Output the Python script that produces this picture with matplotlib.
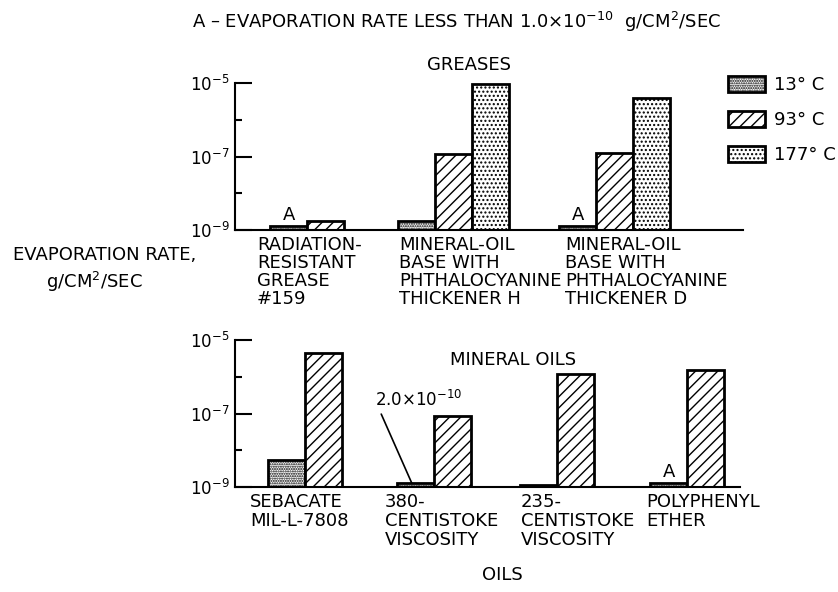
import numpy as np
import matplotlib
matplotlib.use('Agg')
import matplotlib.pyplot as plt
from matplotlib.patches import Patch

plt.rc('font', family='DejaVu Sans', size=13)
plt.rc('mathtext', default='regular')
plt.rc('hatch', linewidth=1.0)

# evaporation rate, g/cm^2/sec  (nan = not measured)
temps = ['13° C', '93° C', '177° C']

grease_names = ['RADIATION-\nRESISTANT\nGREASE\n#159',
                'MINERAL-OIL\nBASE WITH\nPHTHALOCYANINE\nTHICKENER H',
                'MINERAL-OIL\nBASE WITH\nPHTHALOCYANINE\nTHICKENER D']
grease_13 = [1.0e-10, 1.8e-9, 1.0e-10]
grease_93 = [1.8e-9, 1.2e-7, 1.25e-7]
grease_177 = [np.nan, 9.3e-6, 4.0e-6]
grease_A = [True, False, True]          # below 1.0e-10

oil_names = ['SEBACATE\nMIL-L-7808',
             '380-\nCENTISTOKE\nVISCOSITY',
             '235-\nCENTISTOKE\nVISCOSITY',
             'POLYPHENYL\nETHER']
oil_13 = [5.4e-9, 2.0e-10, 1.15e-9, 1.0e-10]
oil_93 = [4.5e-6, 8.3e-8, 1.2e-6, 1.55e-6]
oil_A = [False, False, False, True]

hatches = ['.......', '///', '....']
y_floor = 1e-9
stub = 1.26e-9      # anything under the axis floor is drawn as a thin stub
W = 838.
H = 592.


def draw_panel(ax, starts, label_x, names, series, a_flags, xmax, lsp):
    for k, vals in enumerate(series):
        v = np.array(vals, dtype=float)
        ok = ~np.isnan(v)
        shown = np.where(v < y_floor, stub, v)
        ax.bar(np.array(starts)[ok] + k, shown[ok] - y_floor, bottom=y_floor, width=1,
               align='edge', facecolor='white', edgecolor='black', linewidth=2,
               hatch=hatches[k])
    for i, a in enumerate(a_flags):
        if a:
            ax.annotate('A', xy=(starts[i] + 0.5, stub), xytext=(0, 2), textcoords='offset points',
                        ha='center', va='bottom', fontsize=13)
    for x, name in zip(label_x, names):
        ax.annotate(name, xy=(x, 0), xycoords=('data', 'axes fraction'), xytext=(0, -4),
                    textcoords='offset points', ha='left', va='top', linespacing=lsp)
    ax.set_yscale('log')
    ax.set_ylim(1e-9, 1e-5)
    ax.set_xlim(0, xmax)
    ax.spines['top'].set_visible(False)
    ax.spines['right'].set_visible(False)
    ax.spines['left'].set_linewidth(1.5)
    ax.spines['bottom'].set_linewidth(1.5)
    ax.set_xticks([])
    ax.set_yticks([1e-9, 1e-7, 1e-5])
    ax.set_yticklabels([r'$10^{-9}$', r'$10^{-7}$', r'$10^{-5}$'])
    ax.set_yticks([1e-8, 1e-6], minor=True)
    ax.yaxis.set_minor_formatter(plt.NullFormatter())
    ax.tick_params(axis='y', which='major', direction='in', length=12, width=1.5, pad=4, labelsize=12)
    ax.tick_params(axis='y', which='minor', direction='in', length=5, width=1.5)


fig = plt.figure(figsize=(8.38, 5.92), dpi=100)
ax1 = fig.add_axes([235 / W, 1 - 230 / H, 508 / W, 147 / H])
ax2 = fig.add_axes([235 / W, 1 - 487 / H, 505 / W, 147 / H])

draw_panel(ax1, [0.95, 4.41, 8.76], [0.59, 4.43, 8.92], grease_names,
           [grease_13, grease_93, grease_177], grease_A, 508 / 37., 1.0)
draw_panel(ax2, [0.89, 4.38, 7.70, 11.22], [0.41, 4.05, 7.73, 11.11], oil_names,
           [oil_13, oil_93], oil_A, 505 / 37., 1.1)

# leader for the 380 cSt value, which sits below the axis floor
ax2.annotate('2.0×10$^{-10}$', xy=(4.78, stub), xytext=(375 / W, 1 - 400 / H),
             textcoords='figure fraction', ha='left', va='center', fontsize=12,
             arrowprops=dict(arrowstyle='-', color='black', lw=1.2, relpos=(0, 0.5),
                             shrinkA=1, shrinkB=0))

fig.text(192 / W, 1 - 22 / H, 'A – EVAPORATION RATE LESS THAN 1.0×10$^{-10}$  g/CM$^2$/SEC',
         ha='left', va='center')
fig.text(469 / W, 1 - 65 / H, 'GREASES', ha='center', va='center')
fig.text(513 / W, 1 - 360 / H, 'MINERAL OILS', ha='center', va='center')
fig.text(502 / W, 1 - 575 / H, 'OILS', ha='center', va='center')
fig.text(13 / W, 1 - 255 / H, 'EVAPORATION RATE,', ha='left', va='center')
fig.text(94 / W, 1 - 282 / H, 'g/CM$^2$/SEC', ha='center', va='center')

handles = [Patch(facecolor='white', edgecolor='black', linewidth=2, hatch=h) for h in hatches]
fig.legend(handles, temps, loc='upper left', bbox_to_anchor=(728 / W, 1 - 76 / H), frameon=False,
           handlelength=2.05, handleheight=0.94, handletextpad=0.5, labelspacing=0.95,
           borderpad=0, borderaxespad=0, fontsize=13)

fig.savefig('out.png', dpi=100)
